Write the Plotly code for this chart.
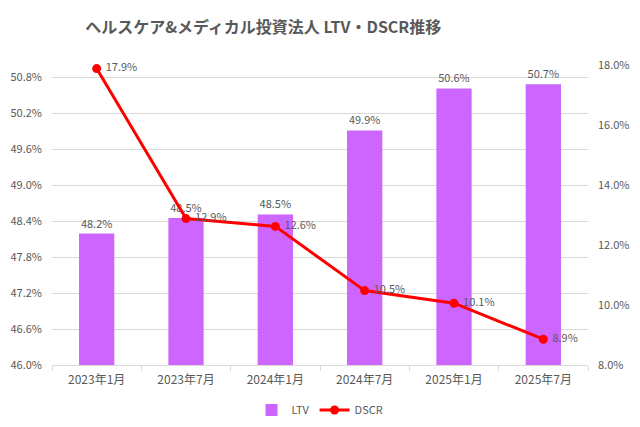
import plotly.graph_objects as go

categories = ["2023年1月", "2023年7月", "2024年1月", "2024年7月", "2025年1月", "2025年7月"]
ltv = [48.19, 48.45, 48.51, 49.91, 50.61, 50.68]
dscr = [17.88, 12.88, 12.62, 10.48, 10.06, 8.86]
left_ticks = [46.0, 46.6, 47.2, 47.8, 48.4, 49.0, 49.6, 50.2, 50.8]
right_ticks = [8, 10, 12, 14, 16, 18]

FONT = "Noto Sans CJK JP"
GRAY = "#595959"

fig = go.Figure()
fig.add_trace(go.Bar(
    x=categories, y=ltv, name="LTV",
    marker=dict(color="#CC66FF", line=dict(width=0)),
    width=0.395,
    text=[f"{v:.1f}%" for v in ltv], textposition="outside",
    textfont=dict(family=FONT, size=11, color=GRAY),
    cliponaxis=False,
))
fig.add_trace(go.Scatter(
    x=categories, y=dscr, name="DSCR", yaxis="y2",
    mode="lines+markers+text",
    line=dict(color="#FF0000", width=3),
    marker=dict(color="#FF0000", size=9),
    text=[f" {v:.1f}%" for v in dscr], textposition="middle right",
    textfont=dict(family=FONT, size=11, color=GRAY),
    cliponaxis=False,
))

fig.update_layout(
    width=624, height=411,
    margin=dict(l=44, r=44, t=57, b=54, autoexpand=False),
    paper_bgcolor="white", plot_bgcolor="white",
    font=dict(family=FONT, size=11, color=GRAY),
    title=dict(text="<b>ヘルスケア&メディカル投資法人 LTV・DSCR推移</b>",
               x=0.409, xanchor="center", y=0.954, yanchor="middle",
               font=dict(family=FONT, size=16, color=GRAY)),
    bargap=0.6,
    xaxis=dict(showline=True, linecolor="#D9D9D9", linewidth=1,
               ticks="outside", ticklen=5, tickcolor="#D9D9D9",
               tickson="boundaries", showgrid=False, ticklabelstandoff=4,
               tickfont=dict(family=FONT, size=12, color=GRAY)),
    yaxis=dict(range=[46.0, 51.0], tickvals=left_ticks,
               ticktext=[f"{v:.1f}%" for v in left_ticks],
               showgrid=True, gridcolor="#D9D9D9", gridwidth=1,
               zeroline=False, showline=False, ticklabelstandoff=9,
               tickfont=dict(family=FONT, size=11, color=GRAY)),
    yaxis2=dict(range=[8, 18], tickvals=right_ticks,
                ticktext=[f"{v:.1f}%" for v in right_ticks],
                overlaying="y", side="right", showgrid=False,
                zeroline=False, showline=False, ticklabelstandoff=9,
                tickfont=dict(family=FONT, size=11, color=GRAY)),
    legend=dict(orientation="h", x=0.5, xanchor="center", y=-0.15, yanchor="middle",
                font=dict(family=FONT, size=11, color=GRAY),
                itemwidth=30, tracegroupgap=0),
)

fig.write_html("out.html")
